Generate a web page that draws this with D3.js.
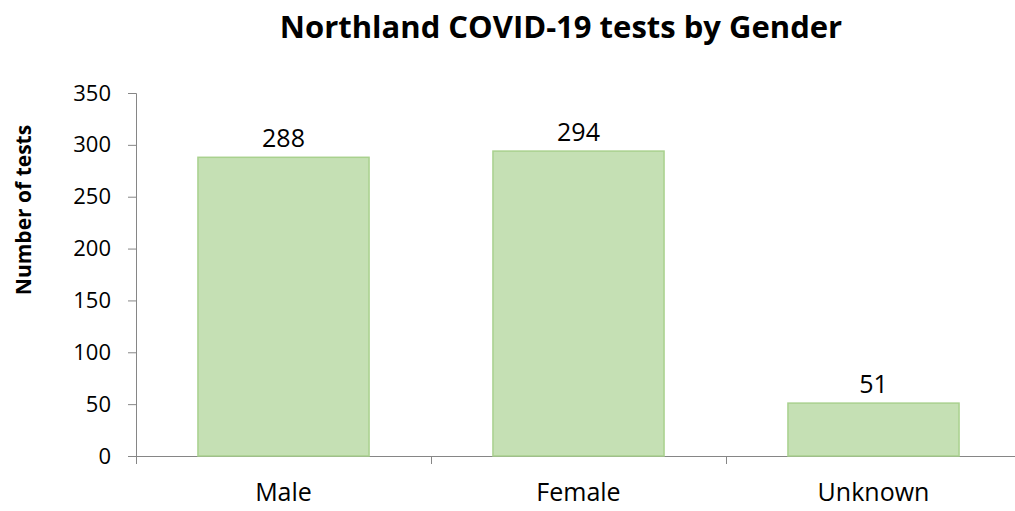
<!DOCTYPE html>
<html><head><meta charset="utf-8">
<script src="https://cdn.jsdelivr.net/npm/d3@7"></script>
<style>body{margin:0;background:#fff}svg{display:block}text{font-family:"Open Sans","Liberation Sans",sans-serif;fill:#000}</style>
</head><body>
<svg id="c" width="1015" height="511"></svg>
<script>
const categories = ["Male", "Female", "Unknown"];
const values = [288, 294, 51];
const yTicks = [0, 50, 100, 150, 200, 250, 300, 350];
const title = "Northland COVID-19 tests by Gender";
const yTitle = "Number of tests";

const svg = d3.select("#c");
const x0 = 136, x1 = 1021, yTop = 93, yBot = 456;
const x = d3.scaleBand().domain(categories).range([x0, x1]).paddingInner(0.42).paddingOuter(0.21);
const y = d3.scaleLinear().domain([0, 350]).range([yBot, yTop]);

// Y axis
const ya = svg.append("g").attr("transform", `translate(${x0},0)`)
  .call(d3.axisLeft(y).tickValues(yTicks).tickSize(8).tickPadding(17).tickFormat(d3.format("d")));
ya.selectAll("path,line").attr("stroke", "#868686").attr("stroke-width", 1);
ya.selectAll("text").style("font-size", "22px").attr("fill", "#000");

// X axis
const xb = d3.scaleLinear().domain([0, categories.length]).range([x0, x1]);
const xa = svg.append("g").attr("transform", `translate(0,${yBot})`)
  .call(d3.axisBottom(xb).tickValues(d3.range(categories.length + 1)).tickSize(8).tickFormat(""));
xa.selectAll("path,line").attr("stroke", "#868686").attr("stroke-width", 1);
xa.select("path").attr("d", `M${x0},0.5H${x1}`);

// Category labels
svg.append("g").selectAll("text").data(categories).join("text")
  .attr("x", d => x(d) + x.bandwidth() / 2).attr("y", 501)
  .attr("text-anchor", "middle").style("font-size", "25px").text(d => d);

// Bars
svg.append("g").selectAll("rect").data(values).join("rect")
  .attr("x", (d, i) => x(categories[i])).attr("width", x.bandwidth())
  .attr("y", d => y(d)).attr("height", d => yBot - y(d))
  .attr("fill", "#c5e0b4").attr("stroke", "#a9d18e").attr("stroke-width", 1.5);

// Value labels
svg.append("g").selectAll("text").data(values).join("text")
  .attr("x", (d, i) => x(categories[i]) + x.bandwidth() / 2).attr("y", d => y(d) - 10)
  .attr("text-anchor", "middle").style("font-size", "25px").text(d => d);

// Title
svg.append("text").attr("x", 561).attr("y", 38).attr("text-anchor", "middle")
  .style("font-size", "31px").style("font-weight", "bold").text(title);

// Y title
svg.append("text").attr("transform", "translate(31,210) rotate(-90)").attr("text-anchor", "middle")
  .style("font-size", "21px").style("font-weight", "bold").text(yTitle);
</script>
</body></html>
